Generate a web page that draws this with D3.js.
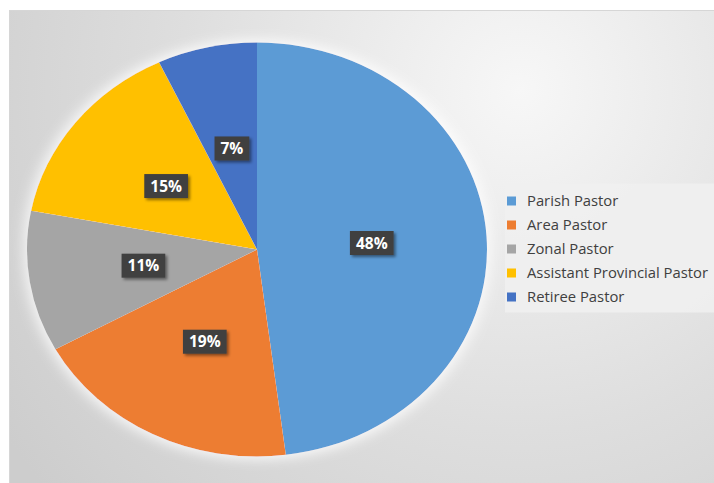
<!DOCTYPE html>
<html>
<head>
<meta charset="utf-8">
<script src="https://cdn.jsdelivr.net/npm/d3@7"></script>
<style>
  html, body { margin: 0; padding: 0; background: #ffffff; }
  svg { display: block; }
</style>
</head>
<body>
<svg id="chart" width="714" height="483"></svg>
<script>
// Pastor categories and their shares (percent)
const categories = ["Parish Pastor", "Area Pastor", "Zonal Pastor", "Assistant Provincial Pastor", "Retiree Pastor"];
const shares = [48, 19, 11, 15, 7];
const colors = ["#5B9BD5", "#ED7D31", "#A5A5A5", "#FFC000", "#4472C4"];

const W = 714, H = 483;
const svg = d3.select("#chart");
const defs = svg.append("defs");

// chart area background gradient
const bg = defs.append("radialGradient")
  .attr("id", "bgGrad")
  .attr("gradientUnits", "userSpaceOnUse")
  .attr("cx", 520).attr("cy", 90).attr("r", 620);
bg.append("stop").attr("offset", 0).attr("stop-color", "#f7f7f7");
bg.append("stop").attr("offset", 0.55).attr("stop-color", "#dedede");
bg.append("stop").attr("offset", 1).attr("stop-color", "#cdcdcd");

// soft white glow around the pie
const glow = defs.append("filter").attr("id", "glow")
  .attr("x", "-20%").attr("y", "-20%").attr("width", "140%").attr("height", "140%");
glow.append("feMorphology").attr("in", "SourceAlpha").attr("operator", "dilate").attr("radius", 3).attr("result", "dil");
glow.append("feGaussianBlur").attr("in", "dil").attr("stdDeviation", 6).attr("result", "blur");
glow.append("feFlood").attr("flood-color", "#ffffff").attr("flood-opacity", 0.8);
glow.append("feComposite").attr("in2", "blur").attr("operator", "in").attr("result", "glowC");
const gm = glow.append("feMerge");
gm.append("feMergeNode").attr("in", "glowC");
gm.append("feMergeNode").attr("in", "SourceGraphic");

// drop shadow for the value labels
const ls = defs.append("filter").attr("id", "lblShadow")
  .attr("x", "-20%").attr("y", "-30%").attr("width", "150%").attr("height", "170%");
ls.append("feDropShadow").attr("dx", 2).attr("dy", 2).attr("stdDeviation", 1.5)
  .attr("flood-color", "#000").attr("flood-opacity", 0.45);

// chart area
svg.append("rect")
  .attr("x", 9.5).attr("y", 10.5)
  .attr("width", W).attr("height", H)
  .attr("fill", "url(#bgGrad)")
  .attr("stroke", "#d6d6d6").attr("stroke-width", 1);

// pie geometry (drawn as circle, stretched horizontally)
const cx = 257, cy = 249.5, ry = 207, rx = 230;
const sx = rx / ry;

const pie = d3.pie().sort(null).value(d => d.value);
const arcs = pie(categories.map((c, i) => ({ name: c, value: shares[i], color: colors[i] })));
const arc = d3.arc().innerRadius(0).outerRadius(ry);

const pieG = svg.append("g")
  .attr("transform", `translate(${cx},${cy}) scale(${sx},1)`)
  .attr("filter", "url(#glow)");

pieG.selectAll("path.slice")
  .data(arcs)
  .join("path")
  .attr("class", "slice")
  .attr("d", arc)
  .attr("fill", d => d.data.color);

// value labels: dark boxes with white bold text at slice centroids
const labelG = svg.append("g");
arcs.forEach(d => {
  const [px, py] = arc.centroid(d);
  const x = cx + px * sx, y = cy + py;
  const g = labelG.append("g").attr("transform", `translate(${x},${y})`);
  const box = g.append("rect").attr("fill", "#404040").attr("filter", "url(#lblShadow)");
  const t = g.append("text")
    .attr("text-anchor", "middle")
    .attr("dy", "0.36em")
    .attr("fill", "#ffffff")
    .attr("font-family", "'Open Sans', 'Noto Sans', sans-serif")
    .attr("font-weight", "bold")
    .attr("font-size", 15.5)
    .text(d.data.value + "%");
  const w = t.node().getComputedTextLength() + 12;
  const h = 24;
  box.attr("x", -w / 2).attr("y", -h / 2).attr("width", w).attr("height", h);
});

// legend
const legX = 505, legY = 183.5;
const legend = svg.append("g");
legend.append("rect")
  .attr("x", legX).attr("y", legY)
  .attr("width", W - legX).attr("height", 129)
  .attr("fill", "#f0f0f0").attr("fill-opacity", 0.9);

const rowY = d3.scalePoint().domain(categories).range([201, 297]);
const items = legend.selectAll("g.item")
  .data(arcs)
  .join("g")
  .attr("class", "item")
  .attr("transform", d => `translate(0,${rowY(d.data.name)})`);
items.append("rect")
  .attr("x", 507).attr("y", -4.5)
  .attr("width", 9).attr("height", 9)
  .attr("fill", d => d.data.color);
items.append("text")
  .attr("x", 527).attr("dy", "0.36em")
  .attr("fill", "#404040")
  .attr("font-family", "'Open Sans', 'Noto Sans', sans-serif")
  .attr("font-size", 14.8)
  .text(d => d.data.name);
</script>
</body>
</html>
